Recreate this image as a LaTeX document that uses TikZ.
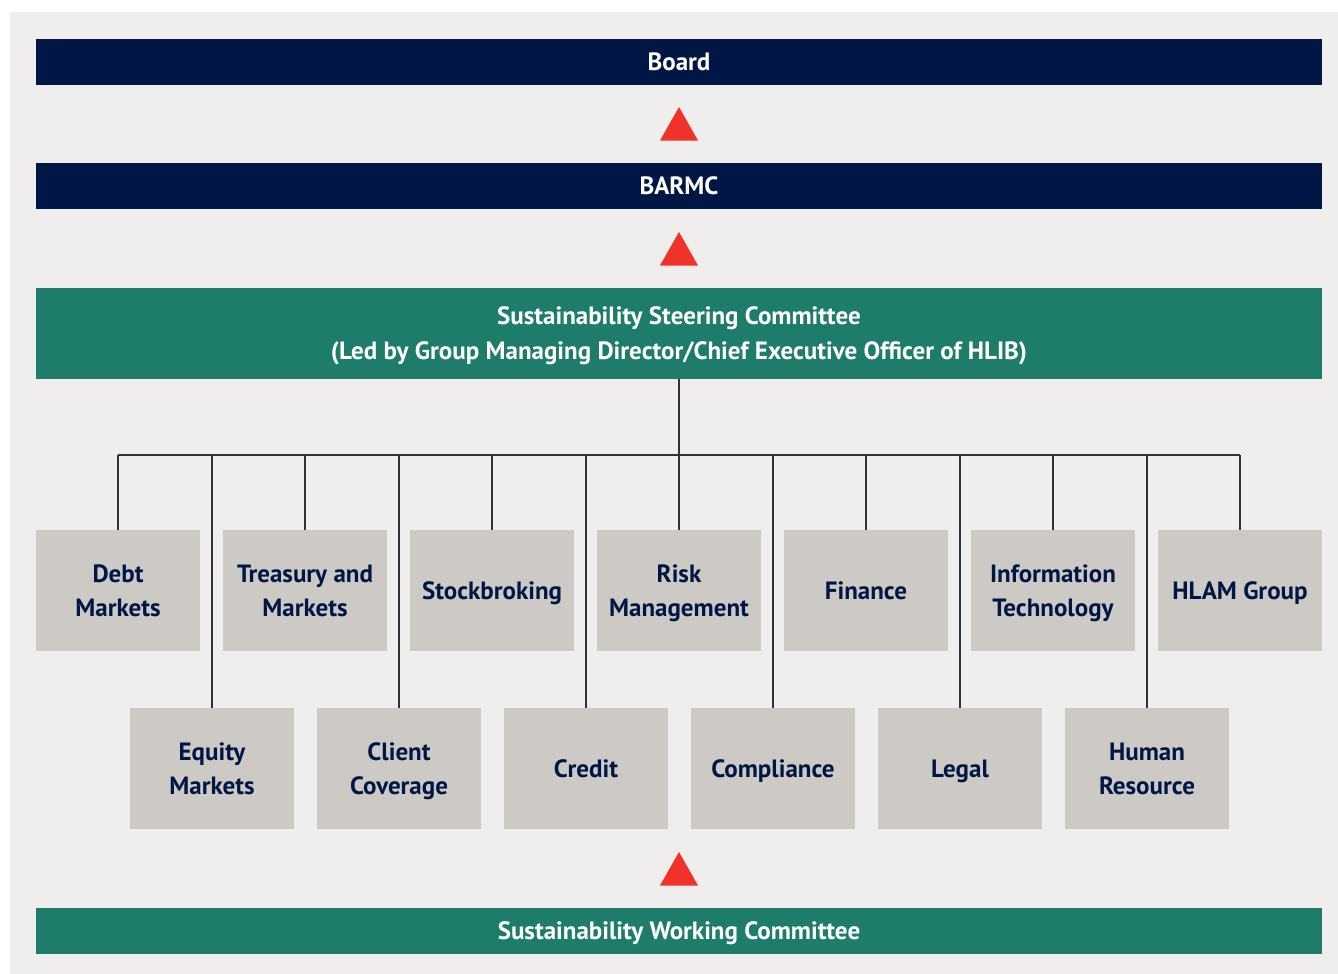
\documentclass[tikz,border=0pt]{standalone}
\usepackage{fontspec}
\setmainfont{PT Sans}
\definecolor{navy}{HTML}{001746}
\definecolor{teal}{HTML}{1E7D6A}
\definecolor{boxgray}{HTML}{CDCAC5}
\definecolor{panel}{HTML}{EFEEEC}
\definecolor{tri}{HTML}{F03228}
\tikzset{
  bar/.style={fill=#1, text=white, minimum width=1286pt, inner sep=0pt, align=center, text height=17.5pt, text depth=0pt, font=\fontsize{25}{35}\selectfont\bfseries},
  unit/.style={fill=boxgray, text=navy, minimum width=164pt, minimum height=121pt, inner sep=0pt, align=center, text height=17.5pt, text depth=0pt, font=\fontsize{25}{34}\selectfont\bfseries},
  twoline/.style={text height=#1, text depth=0pt},
  twoline/.default=51.5pt,
  link/.style={draw=black!80, line width=1.2pt},
  uptri/.style={fill=tri}
}
\begin{document}
\begin{tikzpicture}[x=1pt,y=-1pt]
\useasboundingbox (0,0) rectangle (1338,974);
\fill[white] (0,0) rectangle (1338,974);
\fill[panel] (10,12) rectangle (1338,974);
% bars
\node[bar=navy, minimum height=46pt] (board) at (679,62) {Board};
\node[bar=navy, minimum height=46pt] (barmc) at (679,186) {BARMC};
\node[bar=teal, minimum height=91pt, twoline=52.5pt] (steer) at (679,333.5) {Sustainability Steering Committee\\(Led by Group Managing Director/Chief Executive Officer of HLIB)};
\node[bar=teal, minimum height=46pt] (work) at (679,931) {Sustainability Working Committee};
% triangles
\fill[uptri] (679,107) -- (698,140.5) -- (660,140.5) -- cycle;
\fill[uptri] (679,232) -- (698,265.5) -- (660,265.5) -- cycle;
\fill[uptri] (679,852) -- (698,885.5) -- (660,885.5) -- cycle;
% top row
\node[unit, twoline] (debt) at (118,590.5) {Debt\\Markets};
\node[unit, twoline] (treas) at (305,590.5) {Treasury and\\Markets};
\node[unit] (stock) at (492,590.5) {Stockbroking};
\node[unit, twoline] (risk) at (679,590.5) {Risk\\Management};
\node[unit] (fin) at (866,590.5) {Finance};
\node[unit, twoline] (it) at (1053,590.5) {Information\\Technology};
\node[unit] (hlam) at (1240,590.5) {HLAM Group};
% bottom row
\node[unit, twoline] (equity) at (212,768.5) {Equity\\Markets};
\node[unit, twoline] (client) at (399,768.5) {Client\\Coverage};
\node[unit] (credit) at (586,768.5) {Credit};
\node[unit] (comp) at (773,768.5) {Compliance};
\node[unit] (legal) at (960,768.5) {Legal};
\node[unit, twoline] (hr) at (1147,768.5) {Human\\Resource};
% connectors
\coordinate (bus) at (679,455);
\draw[link] (steer.south) -- (risk.north);
\draw[link] (debt.north |- bus) -- (hlam.north |- bus);
\foreach \n in {debt,treas,stock,fin,it,hlam,equity,client,credit,comp,legal,hr}
  \draw[link] (\n.north) -- (\n.north |- bus);
\end{tikzpicture}
\end{document}
